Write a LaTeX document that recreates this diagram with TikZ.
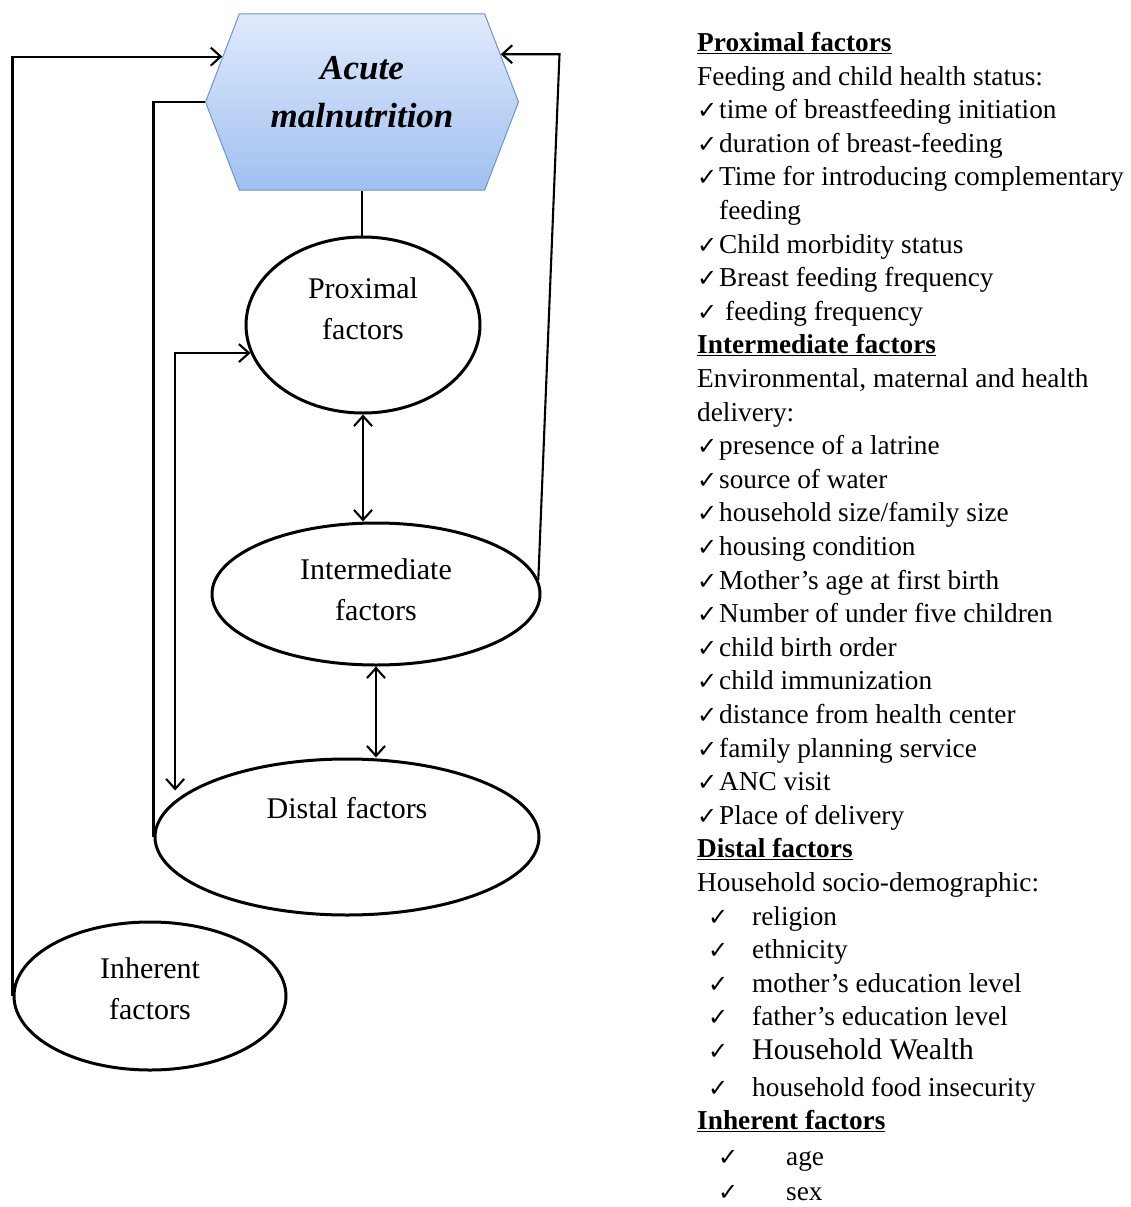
\documentclass[tikz,border=0pt]{standalone}
\usepackage{fontspec}
\setmainfont{Liberation Serif}
\newfontfamily\ckfont{DejaVu Sans}
\usepackage{tikz}
\usetikzlibrary{arrows.meta, positioning, calc, shapes.geometric, shapes.symbols}
\usepackage{xcolor}
\definecolor{hextop}{RGB}{224,234,252}
\definecolor{hexbot}{RGB}{160,192,240}
\definecolor{hexedge}{RGB}{112,148,206}
\newcommand{\ck}{{\ckfont\fontsize{24}{20}\selectfont ✓}}
\newcommand{\ckitem}[1][22pt]{\makebox[#1][l]{\ck}}

\begin{document}
\begin{tikzpicture}[x=1pt, y=-1pt,
  factor/.style={ellipse, draw, line width=3pt, inner sep=0pt, align=center,
    font=\fontsize{30}{41}\selectfont},
  link/.style={line width=2.1pt},
  arr/.style={link, -{Straight Barb[length=10pt,width=18pt]}},
  dbl/.style={link, {Straight Barb[length=10pt,width=18pt]}-{Straight Barb[length=10pt,width=18pt]}}]
  \useasboundingbox (0,0) rectangle (1130,1207);
  % outcome
  \node[signal, signal to=west and east, signal pointer angle=138,
    minimum width=313pt, minimum height=176pt, inner sep=0pt,
    top color=hextop, bottom color=hexbot, draw=hexedge, line width=1pt,
    align=center, text depth=20pt,
    font=\fontsize{35}{48}\selectfont\bfseries\itshape] (acute) at (362,102) {Acute\\malnutrition};
  % factor groups
  \node[factor, minimum width=234pt, minimum height=176pt, text depth=32pt] (prox) at (363,325) {Proximal\\factors};
  \node[factor, minimum width=328pt, minimum height=142pt, text depth=8pt] (inter) at (376,594) {Intermediate\\factors};
  \node[factor, minimum width=384pt, minimum height=156pt, text depth=58pt] (dis) at (347,837) {Distal factors};
  \node[factor, minimum width=272pt, minimum height=148pt, text depth=15pt] (inh) at (150,996) {Inherent\\factors};
  % chain
  \draw[link] (acute.south) -- (acute.south |- prox.north);
  \draw[dbl] (prox.south) -- (prox.south |- inter.north);
  \draw[dbl] (inter.south) -- (inter.south |- dis.north);
  \draw[dbl, shorten <=10pt] (dis.168) |- (prox.194);
  % back to the outcome
  \draw[arr] (inh.west) |- (acute.162);
  \draw[link] (dis.west) |- (acute.west);
  \draw[arr] (inter.5) -- ([xshift=18pt]inter.east |- acute.19) -- (acute.19);
  % list of factors
  \node[anchor=north west, inner sep=0pt, align=left,
    font=\fontsize{27.3}{33.6}\selectfont] (factlist) at (697,32) {%
    \underline{\textbf{Proximal factors}}\\
    Feeding and child health status:\\
    \ckitem time of breastfeeding initiation\\
    \ckitem duration of breast-feeding\\
    \ckitem Time for introducing complementary\\
    \hspace*{22pt}feeding\\
    \ckitem Child morbidity status\\
    \ckitem Breast feeding frequency\\
    \ckitem[28pt]feeding frequency\\
    \underline{\textbf{Intermediate factors}}\\
    Environmental, maternal and health\\
    delivery:\\
    \ckitem presence of a latrine\\
    \ckitem source of water\\
    \ckitem household size/family size\\
    \ckitem housing condition\\
    \ckitem Mother’s age at first birth\\
    \ckitem Number of under five children\\
    \ckitem child birth order\\
    \ckitem child immunization\\
    \ckitem distance from health center\\
    \ckitem family planning service\\
    \ckitem ANC visit\\
    \ckitem Place of delivery\\
    \underline{\textbf{Distal factors}}\\
    Household socio-demographic:\\
    \hspace*{11pt}\ckitem[44pt]religion\\
    \hspace*{11pt}\ckitem[44pt]ethnicity\\
    \hspace*{11pt}\ckitem[44pt]mother’s education level\\
    \hspace*{11pt}\ckitem[44pt]father’s education level\\
    \hspace*{11pt}\ckitem[44pt]{\fontsize{30}{33.6}\selectfont Household Wealth}\\[3pt]
    \hspace*{11pt}\ckitem[44pt]household food insecurity\\
    \underline{\textbf{Inherent factors}}\\[2pt]
    \hspace*{21pt}\ckitem[68pt]age\\[2pt]
    \hspace*{21pt}\ckitem[68pt]sex};
\end{tikzpicture}
\end{document}
